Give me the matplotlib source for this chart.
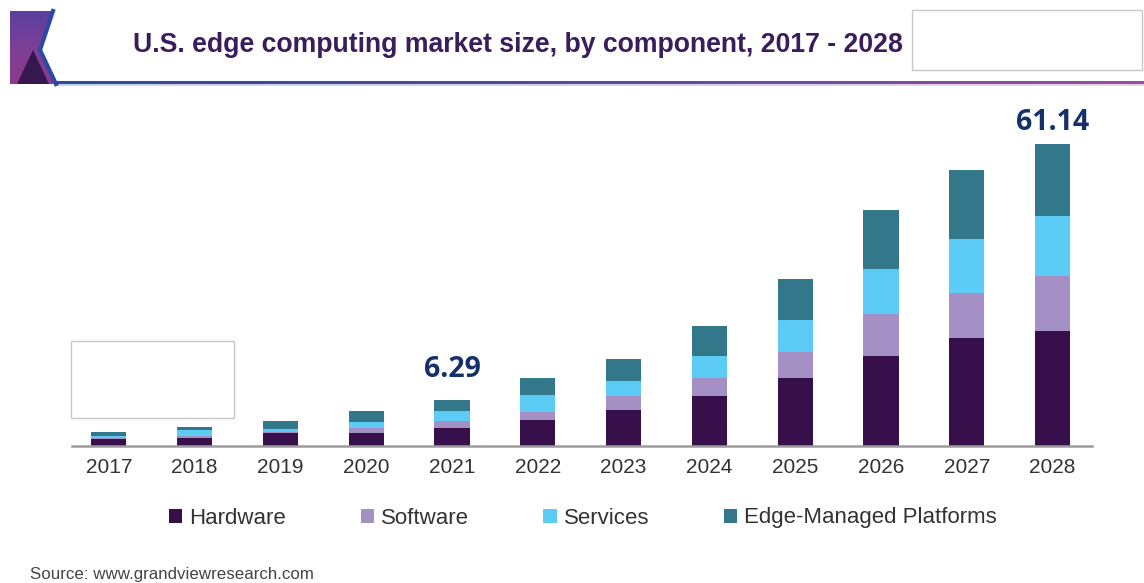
import numpy as np
import matplotlib
matplotlib.use("Agg")
import matplotlib.pyplot as plt
from matplotlib.patches import Polygon, Rectangle, Patch
from matplotlib.colors import LinearSegmentedColormap

# ---------------- data ----------------
years = ["2017", "2018", "2019", "2020", "2021", "2022",
         "2023", "2024", "2025", "2026", "2027", "2028"]
hardware = [1.36, 1.69, 2.58, 2.70, 3.72, 5.22, 7.25, 10.16, 13.69, 18.14, 21.87, 23.36]
software = [0.33, 0.35, 0.33, 1.02, 1.42, 1.62, 2.84, 3.57, 5.40, 8.61, 9.14, 10.97]
services = [0.35, 1.22, 0.49, 1.16, 1.97, 3.39, 3.11, 4.53, 6.44, 9.00, 10.97, 12.19]
edge_managed = [0.87, 0.55, 1.69, 2.23, 2.23, 3.45, 4.35, 5.95, 8.27, 11.98, 13.95, 14.62]
series_names = ["Hardware", "Software", "Services", "Edge-Managed Platforms"]
colors = ["#370f4a", "#a590c6", "#5ccbf5", "#32788a"]
annot_years = ["2021", "2028"]
annot_labels = ["6.29", "61.14"]

title = "U.S. edge computing market size, by component, 2017 - 2028"
source = "Source: www.grandviewresearch.com"

W, H = 1144, 583
fig = plt.figure(figsize=(W / 100, H / 100), dpi=100)
fig.patch.set_facecolor("white")

def fx(x):
    return x / W

def fy(y):
    return 1 - y / H

# ---------------- main axes ----------------
ax_left, ax_right = 72, 1092
ax_top, ax_bot = 100, 446
ax = fig.add_axes([fx(ax_left), fy(ax_bot), (ax_right - ax_left) / W, (ax_bot - ax_top) / H])
ax.patch.set_alpha(0)
x = np.arange(len(years))
series = [hardware, software, services, edge_managed]
bottom = np.zeros(len(years))
for vals, name, c in zip(series, series_names, colors):
    ax.bar(x, vals, width=0.41, bottom=bottom, color=c, label=name, zorder=2)
    bottom = bottom + np.array(vals)
totals = bottom

ax.set_xlim(-0.43, 11.46)
ax.set_ylim(0, 70.05)
for s in ["left", "right", "top"]:
    ax.spines[s].set_visible(False)
ax.spines["bottom"].set_color("#9c9c9c")
ax.spines["bottom"].set_linewidth(1.8)
ax.set_yticks([])
ax.set_xticks(x)
ax.set_xticklabels(years, fontsize=15, color="#333333", family=["Liberation Sans", "DejaVu Sans"])
ax.tick_params(axis="x", length=0, pad=8.5)

annot_offsets_px = [30, 22]
for yr, lab, off in zip(annot_years, annot_labels, annot_offsets_px):
    i = years.index(yr)
    ax.annotate(lab, (x[i], totals[i]), xytext=(0, off * 0.72), textcoords="offset points",
                ha="center", va="center", fontsize=20.5, fontweight="bold",
                color="#16306b", family=["Open Sans", "DejaVu Sans"])

# ---------------- legend ----------------
handles = [Patch(facecolor=c, edgecolor="none") for c in colors]
leg = fig.legend(handles, series_names, loc="center", bbox_to_anchor=(fx(583), fy(518)),
                 ncol=4, frameon=False, handlelength=0.6, handleheight=0.6,
                 handletextpad=0.32, columnspacing=3.35,
                 prop={"family": ["Liberation Sans", "DejaVu Sans"], "size": 16})
for t in leg.get_texts():
    t.set_color("#333333")

# ---------------- overlay (header, boxes, source) ----------------
ov = fig.add_axes([0, 0, 1, 1], zorder=-1)
ov.set_xlim(0, W)
ov.set_ylim(H, 0)
ov.axis("off")

# gradient header rule
cmap_line = LinearSegmentedColormap.from_list("rule", ["#2c4a9e", "#5a4aa0", "#9a4f9e"])
ov.imshow(np.linspace(0, 1, 256)[None, :], cmap=cmap_line, aspect="auto",
          extent=[54, W, 84.5, 81.5], zorder=1)
ov.imshow(np.linspace(0, 1, 256)[None, :], cmap=cmap_line, aspect="auto",
          extent=[54, W, 86.5, 84.5], zorder=1, alpha=0.25)

# logo chevron
logo_pts = [(10, 11), (53, 11), (40, 50), (56, 84), (10, 84)]
poly = Polygon(logo_pts, closed=True, facecolor="none", edgecolor="none")
ov.add_patch(poly)
cmap_logo = LinearSegmentedColormap.from_list("logo", ["#5a40a0", "#7e3f96", "#8c3a8c"])
img = ov.imshow(np.linspace(0, 1, 64)[:, None], cmap=cmap_logo, aspect="auto",
                extent=[10, 56, 84, 11], zorder=2)
img.set_clip_path(poly)
ov.add_patch(Polygon([(17, 84), (33, 50), (49, 84)], closed=True,
                     facecolor="#36174e", edgecolor="none", zorder=3))
ov.plot([53, 40, 56], [11, 50, 84], color="#2b4aa3", lw=3, zorder=4, solid_joinstyle="miter")

# title
ov.text(133, 45, title, ha="left", va="center", fontsize=19.2, fontweight="bold",
        color="#3a1d5c", family=["Liberation Sans", "DejaVu Sans"])

# blank boxes
ov.add_patch(Rectangle((912, 10), 230, 60, facecolor="white", edgecolor="#c8c8c8", lw=1, zorder=5))
ov.add_patch(Rectangle((71, 341), 163, 77, facecolor="white", edgecolor="#c8c8c8", lw=1, zorder=5))

# source
ov.text(30, 574, source, ha="left", va="center", fontsize=12.2, color="#444444",
        family=["Liberation Sans", "DejaVu Sans"])

fig.savefig("out.png", dpi=100)
